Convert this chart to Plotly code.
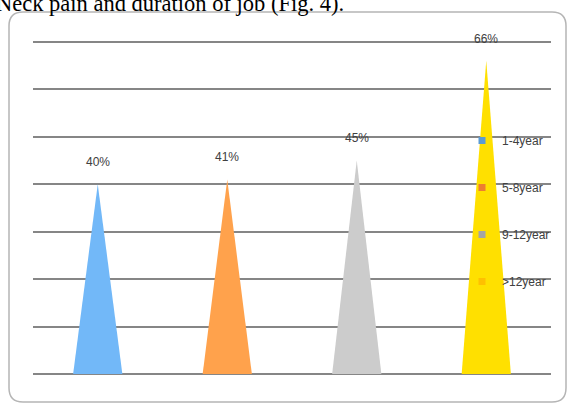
import plotly.graph_objects as go

categories = ["1-4year", "5-8year", "9-12year", ">12year"]
values = [40, 41, 45, 66]
labels = ["40%", "41%", "45%", "66%"]
fill_colors = ["#72B8F8", "#FFA24C", "#CCCCCC", "#FFE000"]
legend_colors = ["#5B9BD5", "#ED7D31", "#A5A5A5", "#FFC000"]

W, H = 573, 405
L, R, T, B = 33, 22, 37, 31
PW, PH = W - L - R, H - T - B
YMAX = 71

def xp(px):
    return (px - L) / PW

def yp(py):
    return (H - B - py) / PH

half = 0.19
fig = go.Figure()

for i, (cat, v, c) in enumerate(zip(categories, values, fill_colors)):
    fig.add_trace(go.Scatter(
        x=[i - half, i, i + half, i - half],
        y=[0, v, 0, 0],
        mode="lines", fill="toself", fillcolor=c,
        line=dict(width=0, color=c),
        showlegend=False, hoverinfo="skip",
    ))

for i, (cat, c) in enumerate(zip(categories, legend_colors)):
    fig.add_trace(go.Scatter(
        x=[None], y=[None], mode="markers", name=cat,
        marker=dict(symbol="square", size=7, color=c),
        legendgroup=f"g{i}",
    ))

for i, (v, lab) in enumerate(zip(values, labels)):
    fig.add_annotation(x=i, y=v, text=lab, showarrow=False, yshift=22,
                       font=dict(size=12, color="#404040",
                                 family="Liberation Sans Narrow, Liberation Sans, Arial"))

# rounded chart border
x0, x1 = xp(9), xp(566)
y0, y1 = yp(402), yp(12)
rx, ry = 14 / PW, 14 / PH
path = (f"M {x0+rx},{y1} L {x1-rx},{y1} Q {x1},{y1} {x1},{y1-ry} "
        f"L {x1},{y0+ry} Q {x1},{y0} {x1-rx},{y0} L {x0+rx},{y0} "
        f"Q {x0},{y0} {x0},{y0+ry} L {x0},{y1-ry} Q {x0},{y1} {x0+rx},{y1} Z")
fig.add_shape(type="path", path=path, xref="paper", yref="paper",
              line=dict(color="#B5B5B5", width=1.5), layer="below")

# clipped caption from the source document
fig.add_annotation(text="Neck pain and duration of job (Fig. 4).",
                   xref="paper", yref="paper", x=xp(-6), y=yp(18),
                   xanchor="left", yanchor="bottom", showarrow=False,
                   font=dict(size=22.5, color="#000000",
                             family="Liberation Serif, Times New Roman, serif"))

fig.update_layout(
    width=W, height=H,
    margin=dict(l=L, r=R, t=T, b=B),
    paper_bgcolor="white", plot_bgcolor="white",
    xaxis=dict(range=[-0.5, 3.5], showgrid=False, zeroline=False,
               showticklabels=False, showline=False, fixedrange=True),
    yaxis=dict(range=[0, YMAX], dtick=10, showgrid=True, gridcolor="#868686",
               gridwidth=1.5, zeroline=True, zerolinecolor="#868686",
               zerolinewidth=1.5, showticklabels=False, showline=False,
               fixedrange=True),
    legend=dict(x=xp(462), y=yp(126), xanchor="left", yanchor="top",
                bgcolor="rgba(0,0,0,0)", tracegroupgap=28,
                traceorder="grouped", itemwidth=30,
                font=dict(size=12, color="#404040",
                          family="Liberation Sans Narrow, Liberation Sans, Arial")),
    showlegend=True,
)

fig.write_html("out.html")
